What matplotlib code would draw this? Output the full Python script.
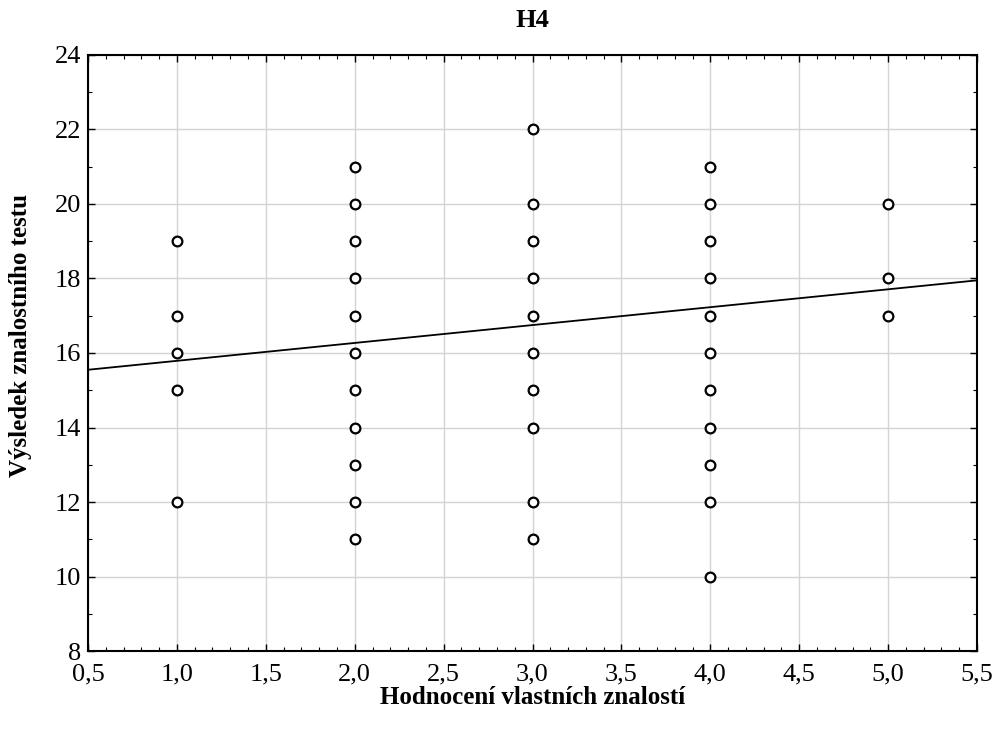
import matplotlib.pyplot as plt
import numpy as np
from matplotlib.ticker import MultipleLocator, FuncFormatter

# self-rating (x) and test score (y)
x1 = [1, 1, 1, 1, 1]
y1 = [19, 17, 16, 15, 12]
x2 = [2] * 11
y2 = [21, 20, 19, 18, 17, 16, 15, 14, 13, 12, 11]
x3 = [3] * 10
y3 = [22, 20, 19, 18, 17, 16, 15, 14, 12, 11]
x4 = [4] * 11
y4 = [21, 20, 19, 18, 17, 16, 15, 14, 13, 12, 10]
x5 = [5, 5, 5]
y5 = [20, 18, 17]

# regression line end values
line_x = [0.5, 5.5]
line_y = [15.55, 17.95]

plt.rcParams['font.family'] = ['Liberation Serif', 'DejaVu Serif']

fig = plt.figure(figsize=(9.97, 7.31), dpi=100)
ax = fig.add_axes([0.0883, 0.1094, 0.8917, 0.8154])

xs = x1 + x2 + x3 + x4 + x5
ys = y1 + y2 + y3 + y4 + y5
ax.plot(line_x, line_y, color='black', lw=1.3, zorder=3)
ax.plot(xs, ys, 'o', ms=7, mfc='white', mec='black', mew=1.6, zorder=4)

ax.set_xlim(0.5, 5.5)
ax.set_ylim(8, 24)
ax.xaxis.set_major_locator(MultipleLocator(0.5))
ax.xaxis.set_minor_locator(MultipleLocator(0.1))
ax.yaxis.set_major_locator(MultipleLocator(2))
ax.yaxis.set_minor_locator(MultipleLocator(1))
ax.xaxis.set_major_formatter(FuncFormatter(lambda v, p: f"{v:.1f}".replace('.', ',')))
ax.yaxis.set_major_formatter(FuncFormatter(lambda v, p: f"{v:.0f}"))

ax.tick_params(which='both', direction='in', top=True, right=True, labelsize=19, color='black')
ax.tick_params(which='major', length=5, width=1)
ax.tick_params(which='minor', length=3, width=0.8)
ax.tick_params(axis='x', pad=9)
ax.tick_params(axis='y', pad=5)
ax.grid(True, which='major', color='#d4d4d4', lw=1)
ax.set_axisbelow(True)
for s in ax.spines.values():
    s.set_linewidth(1.5)

ax.set_title("H4", fontsize=19, fontweight='bold', pad=20)
ax.set_xlabel("Hodnocení vlastních znalostí", fontsize=18, fontweight='bold', labelpad=0)
ax.set_ylabel("Výsledek znalostního testu", fontsize=18, fontweight='bold')
ax.yaxis.set_label_coords(-0.063, 0.53)

fig.savefig("out.png", dpi=100)
